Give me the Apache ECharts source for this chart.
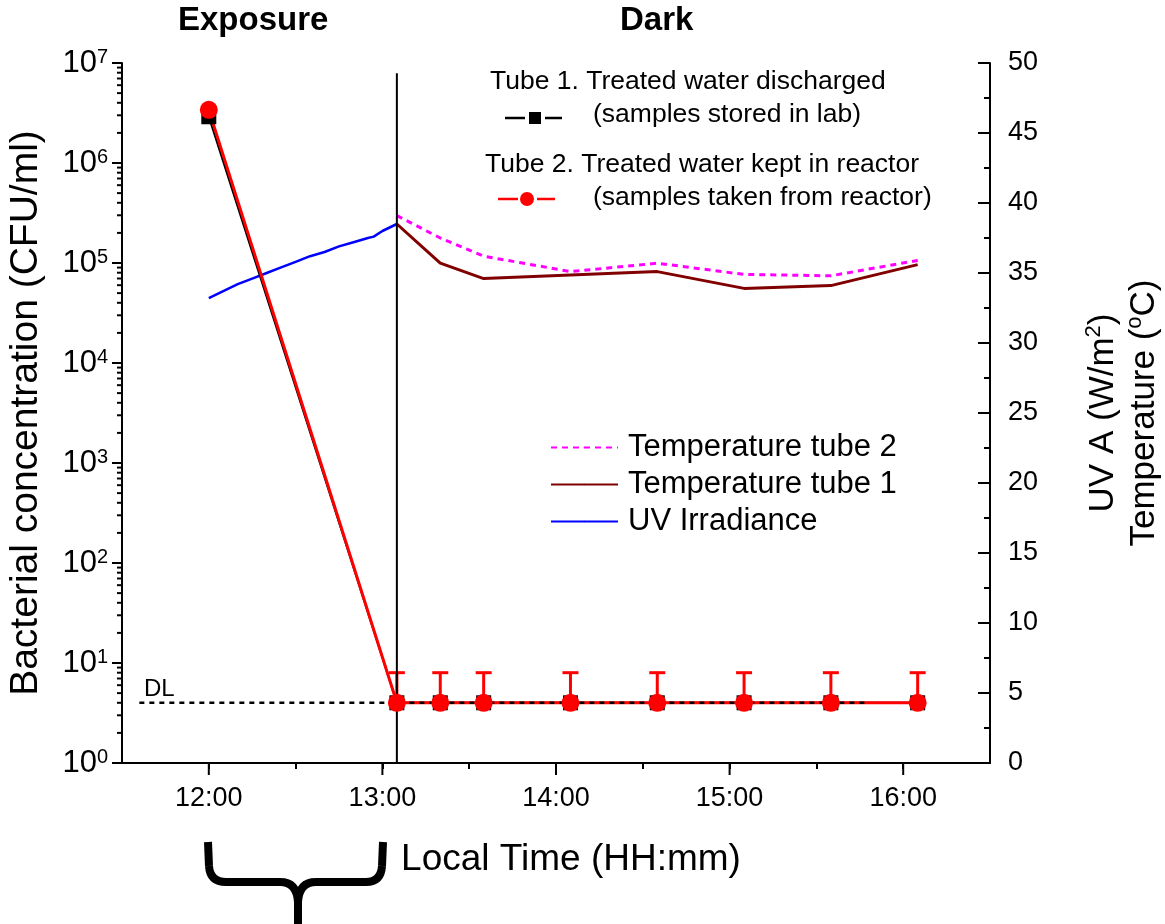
<!DOCTYPE html>
<html>
<head>
<meta charset="utf-8">
<script src="https://cdn.jsdelivr.net/npm/echarts@6/dist/echarts.min.js"></script>
<style>
  html, body { margin: 0; padding: 0; background: #fff; }
  #chart { width: 1165px; height: 924px; }
</style>
</head>
<body>
<div id="chart"></div>
<script>
// sampling times of the bacterial counts
const sampleTimes = ['12:00', '13:05', '13:20', '13:35', '14:05', '14:35', '15:05', '15:35', '16:05'];
const tube1Cfu = [2.9e6, 4, 4, 4, 4, 4, 4, 4, 4];
const tube2Cfu = [3.4e6, 4, 4, 4, 4, 4, 4, 4, 4];
const tube2ErrTop = [null, 8, 8, 8, 8, 8, 8, 8, 8];

// temperatures in the dark phase
const tempTimes = ['13:05', '13:20', '13:35', '14:05', '14:35', '15:05', '15:35', '16:05'];
const tempTube1 = [38.5, 35.7, 34.6, 34.85, 35.1, 33.9, 34.1, 35.6];
const tempTube2 = [39.1, 37.5, 36.2, 35.1, 35.7, 34.9, 34.8, 35.9];

// UV irradiance during exposure
const uvTimes = ['12:00', '12:05', '12:10', '12:15', '12:20', '12:25', '12:30', '12:35', '12:40', '12:45', '12:50', '12:55', '12:57', '13:00', '13:05'];
const uvValues = [33.2, 33.7, 34.2, 34.6, 35.0, 35.4, 35.8, 36.2, 36.5, 36.9, 37.2, 37.5, 37.6, 38.0, 38.5];

// detection limit and sunlight/dark switch
const detectionLimit = 4;
const dlRange = ['11:36', '15:47'];
const switchTime = '13:05';

const hourTicks = ['12:00', '13:00', '14:00', '15:00', '16:00'];

const toMin = (t) => {
  const p = t.split(':');
  return (+p[0]) * 60 + (+p[1]);
};
const pad = (n) => (n < 10 ? '0' + n : '' + n);

const FONT = 'Liberation Sans, Arial, sans-serif';

// log minor tick positions (2..9 in every decade)
const logMinor = [];
for (let d = 0; d < 7; d++) {
  for (let k = 2; k <= 9; k++) {
    logMinor.push(k * Math.pow(10, d));
  }
}

const chart = echarts.init(document.getElementById('chart'));

const option = {
  backgroundColor: '#fff',
  animation: false,
  textStyle: { fontFamily: FONT, color: '#000' },
  grid: { left: 122, right: 175, top: 63, bottom: 161, outerBoundsMode: 'none', containLabel: false },
  legend: {
    orient: 'vertical',
    left: 545,
    top: 427,
    itemWidth: 67,
    itemHeight: 2,
    itemGap: 6,
    data: ['Temperature tube 2', 'Temperature tube 1', 'UV Irradiance'],
    textStyle: { fontSize: 31, fontFamily: FONT, color: '#000', padding: [0, 0, 0, 5] }
  },
  xAxis: {
    type: 'value',
    min: 690,
    max: 990,
    interval: 30,
    axisLine: { lineStyle: { color: '#000', width: 2 } },
    axisTick: { show: true, length: 6, lineStyle: { color: '#000', width: 2 } },
    splitLine: { show: false },
    axisLabel: {
      margin: 22,
      fontSize: 27,
      color: '#000',
      fontFamily: FONT,
      showMinLabel: false,
      showMaxLabel: false,
      formatter: (v) => (v % 60 === 0 ? pad(Math.floor(v / 60)) + ':' + pad(v % 60) : '')
    },
    name: 'Local Time (HH:mm)',
    nameLocation: 'middle',
    nameGap: 78,
    nameTextStyle: { fontSize: 37, color: '#000', fontFamily: FONT, padding: [0, 0, 0, 30] }
  },
  yAxis: [
    {
      type: 'log',
      logBase: 10,
      min: 1,
      max: 1e7,
      splitNumber: 7,
      axisLine: { show: true, lineStyle: { color: '#000', width: 2 } },
      axisTick: { show: true, length: 10, lineStyle: { color: '#000', width: 2 } },
      splitLine: { show: false },
      axisLabel: {
        margin: 14,
        color: '#000',
        fontFamily: FONT,
        formatter: (v) => '{b|10}{s|' + Math.round(Math.log10(v)) + '}',
        rich: {
          b: { fontSize: 31, fontFamily: FONT, color: '#000', verticalAlign: 'bottom' },
          s: { fontSize: 20, fontFamily: FONT, color: '#000', verticalAlign: 'top', padding: [0, 0, 12, 0] }
        }
      },
      name: 'Bacterial concentration (CFU/ml)',
      nameLocation: 'middle',
      nameGap: 76,
      nameRotate: 90,
      nameTextStyle: { fontSize: 39, color: '#000', fontFamily: FONT }
    },
    {
      type: 'value',
      position: 'right',
      min: 0,
      max: 50,
      interval: 5,
      axisLine: { show: true, lineStyle: { color: '#000', width: 2 } },
      axisTick: { show: true, inside: true, length: 12, lineStyle: { color: '#000', width: 2 } },
      minorTick: { show: true, splitNumber: 2, length: 6, lineStyle: { color: '#000', width: 2 } },
      splitLine: { show: false },
      axisLabel: { margin: 18, fontSize: 27, color: '#000', fontFamily: FONT },
      name: '{t|UV A (W/m}{sup|2}{t|)}\n{t|Temperature (}{sup|o}{t|C)}',
      nameLocation: 'middle',
      nameGap: 93,
      nameRotate: 90,
      nameTextStyle: {
        color: '#000',
        fontFamily: FONT,
        lineHeight: 41,
        rich: {
          t: { fontSize: 35, fontFamily: FONT, color: '#000', lineHeight: 41 },
          sup: { fontSize: 22, fontFamily: FONT, color: '#000', verticalAlign: 'top', lineHeight: 41, padding: [0, 0, 14, 0] }
        }
      }
    }
  ],
  graphic: [
    { type: 'text', left: 178, top: 4, style: { text: 'Exposure', fontSize: 33, fontWeight: 'bold', fontFamily: FONT, fill: '#000' } },
    { type: 'text', left: 620, top: 4, style: { text: 'Dark', fontSize: 33, fontWeight: 'bold', fontFamily: FONT, fill: '#000' } },
    { type: 'text', left: 490, top: 68, style: { text: 'Tube 1. Treated water discharged', fontSize: 26.5, fontFamily: FONT, fill: '#000' } },
    { type: 'text', left: 593, top: 101, style: { text: '(samples stored in lab)', fontSize: 26.5, fontFamily: FONT, fill: '#000' } },
    { type: 'text', left: 485, top: 151, style: { text: 'Tube 2. Treated water kept in reactor', fontSize: 26.5, fontFamily: FONT, fill: '#000' } },
    { type: 'text', left: 593, top: 184, style: { text: '(samples taken from reactor)', fontSize: 26.5, fontFamily: FONT, fill: '#000' } },
    // legend symbol tube 1
    { type: 'line', shape: { x1: 505, y1: 118, x2: 525, y2: 118 }, style: { stroke: '#000', lineWidth: 2.5 } },
    { type: 'line', shape: { x1: 545, y1: 118, x2: 562, y2: 118 }, style: { stroke: '#000', lineWidth: 2.5 } },
    { type: 'rect', shape: { x: 529, y: 112, width: 12, height: 12 }, style: { fill: '#000' } },
    // legend symbol tube 2
    { type: 'line', shape: { x1: 498, y1: 199, x2: 518, y2: 199 }, style: { stroke: '#ff0000', lineWidth: 2.5 } },
    { type: 'line', shape: { x1: 537, y1: 199, x2: 555, y2: 199 }, style: { stroke: '#ff0000', lineWidth: 2.5 } },
    { type: 'circle', shape: { cx: 527, cy: 199, r: 7 }, style: { fill: '#ff0000' } },
    // brace under the exposure period
    {
      type: 'group',
      children: [
        { type: 'line', shape: { x1: 208, y1: 842, x2: 209, y2: 866 }, style: { stroke: '#000', lineWidth: 8, fill: null } },
        { type: 'bezierCurve', shape: { x1: 209, y1: 866, cpx1: 210, cpy1: 882, x2: 226, y2: 882 }, style: { stroke: '#000', lineWidth: 8, fill: null } },
        { type: 'line', shape: { x1: 226, y1: 882, x2: 280, y2: 882 }, style: { stroke: '#000', lineWidth: 8, fill: null } },
        { type: 'bezierCurve', shape: { x1: 280, y1: 882, cpx1: 297, cpy1: 882, x2: 298, y2: 902 }, style: { stroke: '#000', lineWidth: 8, fill: null } },
        { type: 'line', shape: { x1: 298, y1: 900, x2: 298, y2: 924 }, style: { stroke: '#000', lineWidth: 8, fill: null } },
        { type: 'bezierCurve', shape: { x1: 298, y1: 902, cpx1: 299, cpy1: 882, x2: 316, y2: 882 }, style: { stroke: '#000', lineWidth: 8, fill: null } },
        { type: 'line', shape: { x1: 316, y1: 882, x2: 366, y2: 882 }, style: { stroke: '#000', lineWidth: 8, fill: null } },
        { type: 'bezierCurve', shape: { x1: 366, y1: 882, cpx1: 381, cpy1: 882, x2: 382, y2: 866 }, style: { stroke: '#000', lineWidth: 8, fill: null } },
        { type: 'line', shape: { x1: 382, y1: 866, x2: 383, y2: 842 }, style: { stroke: '#000', lineWidth: 8, fill: null } }
      ]
    }
  ],
  series: [
    {
      name: 'UV Irradiance',
      type: 'line',
      yAxisIndex: 1,
      symbol: 'none',
      color: '#0000ff',
      lineStyle: { color: '#0000ff', width: 2.5 },
      data: uvTimes.map((t, i) => [toMin(t), uvValues[i]])
    },
    {
      name: 'Temperature tube 1',
      type: 'line',
      yAxisIndex: 1,
      symbol: 'none',
      color: '#800000',
      lineStyle: { color: '#800000', width: 3 },
      data: tempTimes.map((t, i) => [toMin(t), tempTube1[i]])
    },
    {
      name: 'Temperature tube 2',
      type: 'line',
      yAxisIndex: 1,
      symbol: 'none',
      color: '#ff00ff',
      lineStyle: { color: '#ff00ff', width: 3, type: [6, 5] },
      data: tempTimes.map((t, i) => [toMin(t), tempTube2[i]])
    },
    {
      name: 'Tube 1',
      type: 'line',
      yAxisIndex: 0,
      symbol: 'rect',
      symbolSize: 15,
      color: '#000',
      itemStyle: { color: '#000' },
      lineStyle: { color: '#000', width: 2 },
      data: sampleTimes.map((t, i) => [toMin(t), tube1Cfu[i]])
    },
    {
      name: 'Tube 2 error',
      type: 'custom',
      yAxisIndex: 0,
      data: sampleTimes.map((t, i) => [toMin(t), tube2Cfu[i], tube2ErrTop[i]]).filter((d) => d[2] != null),
      renderItem: (params, api) => {
        const lo = api.coord([api.value(0), api.value(1)]);
        const hi = api.coord([api.value(0), api.value(2)]);
        const st = { stroke: '#ff0000', lineWidth: 3 };
        return {
          type: 'group',
          children: [
            { type: 'line', shape: { x1: lo[0], y1: lo[1], x2: hi[0], y2: hi[1] }, style: st },
            { type: 'line', shape: { x1: hi[0] - 8, y1: hi[1], x2: hi[0] + 8, y2: hi[1] }, style: st }
          ]
        };
      }
    },
    {
      name: 'Tube 2',
      type: 'line',
      yAxisIndex: 0,
      symbol: 'circle',
      symbolSize: 18,
      color: '#ff0000',
      itemStyle: { color: '#ff0000' },
      lineStyle: { color: '#ff0000', width: 3 },
      data: sampleTimes.map((t, i) => [toMin(t), tube2Cfu[i]])
    },
    {
      name: 'DL',
      type: 'line',
      yAxisIndex: 0,
      z: 3,
      symbol: 'circle',
      symbolSize: 1,
      showSymbol: true,
      itemStyle: { color: 'rgba(0,0,0,0)' },
      lineStyle: { color: '#000', width: 2.5, type: [5, 5] },
      data: [
        {
          value: [toMin(dlRange[0]), detectionLimit],
          label: { show: true, position: 'top', formatter: 'DL', offset: [20, 4], fontSize: 24, fontFamily: FONT, color: '#000' }
        },
        [toMin(dlRange[1]), detectionLimit]
      ]
    },
    {
      name: 'switch',
      type: 'line',
      yAxisIndex: 0,
      z: 3,
      symbol: 'none',
      lineStyle: { color: '#000', width: 2 },
      data: [[toMin(switchTime), 1], [toMin(switchTime), 7.9e6]]
    },
    {
      name: 'log minor ticks',
      type: 'custom',
      yAxisIndex: 0,
      silent: true,
      clip: false,
      data: logMinor.map((v) => [690, v]),
      renderItem: (params, api) => {
        const p = api.coord([api.value(0), api.value(1)]);
        return { type: 'line', shape: { x1: p[0] - 5, y1: p[1], x2: p[0], y2: p[1] }, style: { stroke: '#000', lineWidth: 2 } };
      }
    },
    {
      name: 'hour ticks',
      type: 'custom',
      yAxisIndex: 0,
      silent: true,
      clip: false,
      data: hourTicks.map((t) => [toMin(t), 1]),
      renderItem: (params, api) => {
        const p = api.coord([api.value(0), api.value(1)]);
        return { type: 'line', shape: { x1: p[0], y1: p[1], x2: p[0], y2: p[1] + 12 }, style: { stroke: '#000', lineWidth: 2 } };
      }
    }
  ]
};

chart.setOption(option);
window.addEventListener('resize', () => chart.resize());
</script>
</body>
</html>
